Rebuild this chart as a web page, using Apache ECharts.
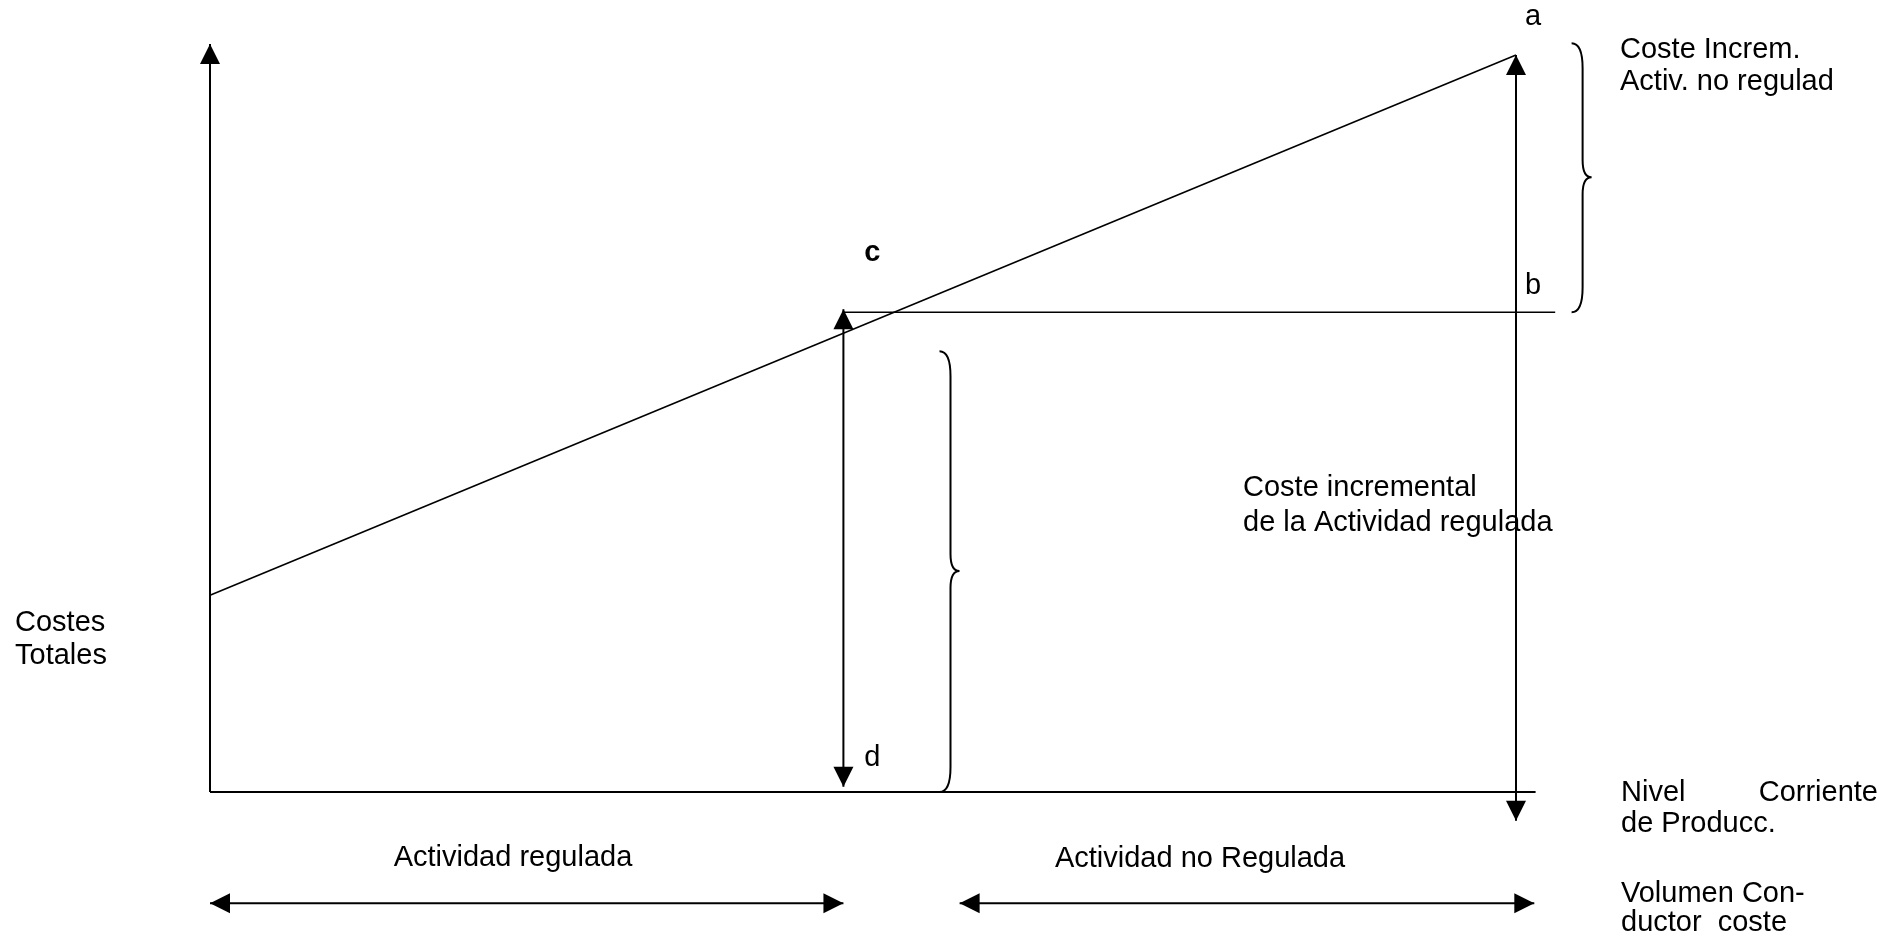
<!DOCTYPE html>
<html>
<head>
<meta charset="utf-8">
<script src="https://cdn.jsdelivr.net/npm/echarts@6/dist/echarts.min.js"></script>
<style>
html,body{margin:0;padding:0;background:#fff;}
#chart{width:1904px;height:942px;}
</style>
</head>
<body>
<div id="chart"></div>
<script>
// ---- data (chart units: x = volume, y = cost) ----
const yAxisLine = [[0, 0], [0, 101.5]];
const xAxisLine = [[0, 0], [101.5, 0]];
const costLine = [[0, 26.7], [100, 100]];
const levelB = [[48.5, 65.1], [103.0, 65.1]];
const arrowCD = [[48.5, 0.7], [48.5, 65.5]];
const arrowAB = [[100, -3.9], [100, 100]];
const spanRegulated = [[0, -15.1], [48.5, -15.1]];
const spanUnregulated = [[57.4, -15.1], [101.4, -15.1]];
const arrowTips = [
  [0, 101.5, 'up'], [48.5, 65.5, 'up'], [48.5, 0.7, 'down'],
  [100, 100, 'up'], [100, -3.9, 'down'],
  [0, -15.1, 'left'], [48.5, -15.1, 'right'],
  [57.4, -15.1, 'left'], [101.4, -15.1, 'right']
];
// [spine x, y bottom, y top, y tip]
const braces = [[56.7, 0, 59.8, 30.0], [105.1, 65.1, 101.6, 83.4]];
const pointLabels = [[100, 100, 'a'], [100, 65.1, 'b'], [48.5, 65.5, 'c'], [48.5, 0.7, 'd']];

// ---- rendering ----
const FONT = '"Liberation Sans", Arial, Helvetica, sans-serif';
const FS = 29;
const chart = echarts.init(document.getElementById('chart'), null, {renderer: 'canvas'});

function seg(data, w) {
  return {
    type: 'line', data: data, symbol: 'none', clip: false, silent: true,
    lineStyle: {color: '#000', width: w}, z: 2, animation: false
  };
}
const dirMap = {
  up: {rot: 0, off: [0, 10]},
  down: {rot: 180, off: [0, -10]},
  left: {rot: 90, off: [10, 0]},
  right: {rot: -90, off: [-10, 0]}
};
const labelOffsets = {a: [17, -38], b: [17, -26], c: [29, -56], d: [29, -29]};

function txt(x, y, s, align, bold) {
  return {
    type: 'text', x: x, y: y, silent: true,
    style: {
      text: s, fill: '#000',
      font: (bold ? 'bold ' : 'normal ') + FS + 'px ' + FONT,
      align: align || 'left', textAlign: align || 'left',
      verticalAlign: 'middle', textVerticalAlign: 'middle'
    }
  };
}

// x: 13.06 px per unit from x=210; y: 7.37 px per unit, 0 at y=792
const option = {
  backgroundColor: '#fff',
  animation: false,
  grid: {left: 210, right: 257.4, top: 18.15, bottom: 2.6},
  xAxis: {type: 'value', min: 0, max: 110, show: false},
  yAxis: {type: 'value', min: -20, max: 105, show: false},
  series: [
    seg(yAxisLine, 2),
    seg(xAxisLine, 2),
    seg(costLine, 1.6),
    seg(levelB, 1.6),
    seg(arrowCD, 2),
    seg(arrowAB, 2),
    seg(spanRegulated, 2),
    seg(spanUnregulated, 2),
    {
      type: 'scatter', clip: false, silent: true, z: 3, animation: false,
      symbol: 'triangle', symbolSize: 20,
      itemStyle: {color: '#000', opacity: 1},
      data: arrowTips.map(function (d) {
        const m = dirMap[d[2]];
        return {value: [d[0], d[1]], symbolRotate: m.rot, symbolOffset: m.off};
      })
    },
    {
      type: 'custom', clip: false, silent: true, z: 2, animation: false,
      data: braces,
      renderItem: function (params, api) {
        const top = api.coord([api.value(0), api.value(2)]);
        const bot = api.coord([api.value(0), api.value(1)]);
        const tip = api.coord([api.value(0), api.value(3)]);
        const sx = top[0];
        const h = 11, r = 25, tr = 17, tw = 9;
        const p = 'M' + (sx - h) + ',' + top[1] +
          ' Q' + sx + ',' + top[1] + ' ' + sx + ',' + (top[1] + r) +
          ' L' + sx + ',' + (tip[1] - tr) +
          ' Q' + sx + ',' + tip[1] + ' ' + (sx + tw) + ',' + tip[1] +
          ' Q' + sx + ',' + tip[1] + ' ' + sx + ',' + (tip[1] + tr) +
          ' L' + sx + ',' + (bot[1] - r) +
          ' Q' + sx + ',' + bot[1] + ' ' + (sx - h) + ',' + bot[1];
        return {
          type: 'path',
          shape: {pathData: p},
          style: {stroke: '#000', fill: 'none', lineWidth: 2}
        };
      }
    },
    {
      type: 'scatter', clip: false, silent: true, z: 4, animation: false,
      symbolSize: 0,
      itemStyle: {opacity: 1},
      data: pointLabels.map(function (d) {
        return {
          value: [d[0], d[1]], name: d[2],
          label: {
            show: true, position: 'inside', offset: labelOffsets[d[2]],
            formatter: d[2], color: '#000', fontSize: FS,
            fontFamily: FONT, fontWeight: d[2] === 'c' ? 'bold' : 'normal',
            align: 'center', verticalAlign: 'middle',
            textBorderWidth: 0, textBorderColor: 'transparent'
          }
        };
      })
    }
  ],
  graphic: [
    txt(1620, 50, 'Coste Increm.'),
    txt(1620, 82, 'Activ. no regulad'),
    txt(1243, 488, 'Coste incremental'),
    txt(1243, 523, 'de la Actividad regulada'),
    txt(15, 623, 'Costes'),
    txt(15, 656, 'Totales'),
    txt(513, 858, 'Actividad regulada', 'center'),
    txt(1200, 859, 'Actividad no Regulada', 'center'),
    txt(1621, 793, 'Nivel'),
    txt(1878, 793, 'Corriente', 'right'),
    txt(1621, 824, 'de Producc.'),
    txt(1621, 894, 'Volumen Con-'),
    txt(1621, 923, 'ductor  coste')
  ]
};
chart.setOption(option);
</script>
</body>
</html>
